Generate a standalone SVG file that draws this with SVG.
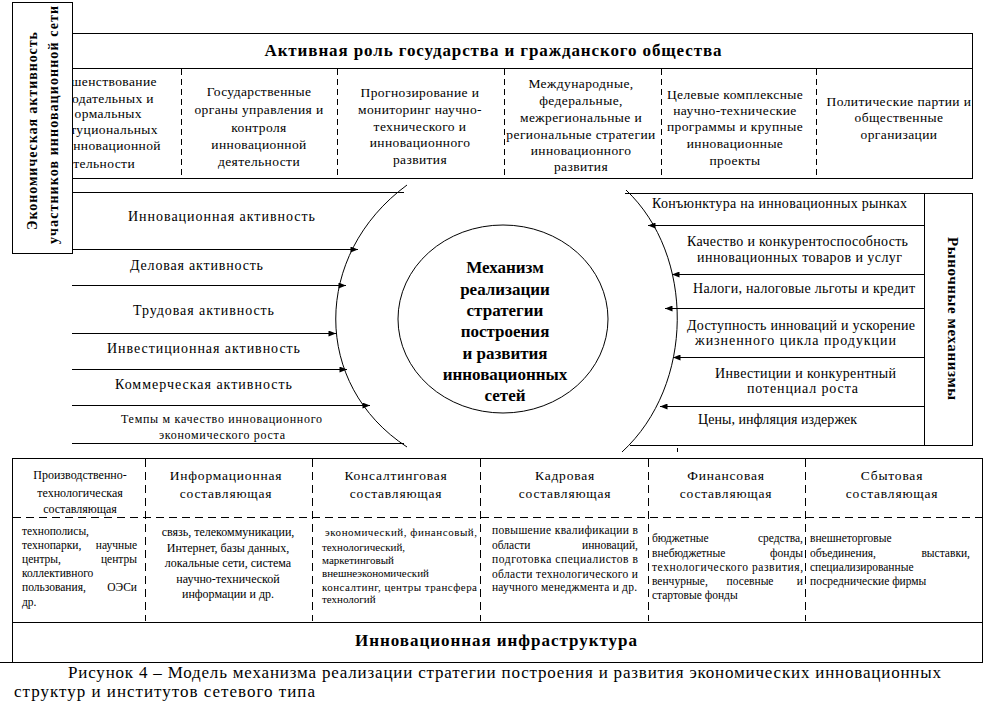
<svg xmlns="http://www.w3.org/2000/svg" width="986" height="717" viewBox="0 0 986 717">
<defs>
<style>
text{font-family:"Liberation Serif","Times New Roman",serif;fill:#000}
.c{text-anchor:middle}
.e{text-anchor:end}
.b{font-weight:bold}
.cell{font-size:13.5px;letter-spacing:0.4px}
.lbl{font-size:14px}
.sm{font-size:11.5px}
.hd{font-size:13.5px;letter-spacing:0.8px}
.ln{stroke:#000;stroke-width:1;fill:none}
.box{stroke:#000;stroke-width:1;fill:#fff}
.dv{stroke:#000;stroke-width:1;stroke-dasharray:6 4}
.dh{stroke:#000;stroke-width:1;stroke-dasharray:8 5}
.arr{stroke:#000;stroke-width:1;fill:none;marker-end:url(#ah)}
</style>
<marker id="ah" viewBox="0 0 10 8" refX="10" refY="4" markerWidth="9" markerHeight="6" markerUnits="userSpaceOnUse" orient="auto"><path d="M0,0L10,4L0,8z" fill="#000"/></marker>
</defs>
<rect width="986" height="717" fill="#fff"/>

<g id="state">
<rect class="box" x="72.5" y="33.5" width="900" height="145"/>
<line class="ln" x1="72" y1="68.5" x2="973" y2="68.5"/>
<text class="b c" x="493" y="56" font-size="17" textLength="457">Активная роль государства и гражданского общества</text>
<line class="dv" x1="181.5" y1="69" x2="181.5" y2="178"/>
<line class="dv" x1="337.5" y1="69" x2="337.5" y2="178"/>
<line class="dv" x1="504.5" y1="69" x2="504.5" y2="178"/>
<line class="dv" x1="661.5" y1="69" x2="661.5" y2="178"/>
<line class="dv" x1="816.5" y1="69" x2="816.5" y2="178"/>
<g id="cell1" class="cell">
<text class="e" x="157" y="86">шенствование</text>
<text class="e" x="154" y="103">одательных и</text>
<text class="e" x="142" y="118">ормальных</text>
<text class="e" x="158" y="134">туциональных</text>
<text class="e" x="161" y="150">инновационной</text>
<text class="e" x="135" y="168">тельности</text>
</g>
<g id="cell2" class="cell">
<text class="c" x="259" y="95.5">Государственные</text>
<text class="c" x="259" y="113.5">органы управления и</text>
<text class="c" x="259" y="131.5">контроля</text>
<text class="c" x="259" y="149">инновационной</text>
<text class="c" x="259" y="166">деятельности</text>
</g>
<g id="cell3" class="cell">
<text class="c" x="420" y="97">Прогнозирование и</text>
<text class="c" x="420" y="114">мониторинг научно-</text>
<text class="c" x="420" y="130.5">технического и</text>
<text class="c" x="420" y="147">инновационного</text>
<text class="c" x="420" y="164">развития</text>
</g>
<g id="cell4" class="cell">
<text class="c" x="581" y="87.5">Международные,</text>
<text class="c" x="581" y="104.5">федеральные,</text>
<text class="c" x="581" y="121.5">межрегиональные и</text>
<text class="c" x="581" y="138.5">региональные стратегии</text>
<text class="c" x="581" y="154.5">инновационного</text>
<text class="c" x="581" y="170.5">развития</text>
</g>
<g id="cell5" class="cell">
<text class="c" x="735" y="98.5">Целевые комплексные</text>
<text class="c" x="735" y="114.5">научно-технические</text>
<text class="c" x="735" y="131">программы и крупные</text>
<text class="c" x="735" y="148">инновационные</text>
<text class="c" x="735" y="164.5">проекты</text>
</g>
<g id="cell6" class="cell">
<text class="c" x="899" y="106">Политические партии и</text>
<text class="c" x="899" y="122">общественные</text>
<text class="c" x="899" y="138.5">организации</text>
</g>
</g>

<g id="economic-activity">
<rect class="box" x="12.5" y="2.5" width="60" height="251"/>
<text class="b c" font-size="14" transform="translate(37,131) rotate(-90)" textLength="198">Экономическая активность</text>
<text class="b c" font-size="14" transform="translate(58,125) rotate(-90)" textLength="238">участников инновационной сети</text>
<path class="ln" d="M407,185 C312,255 312,385 407,447"/>
<line class="ln" x1="72" y1="192.5" x2="404" y2="192.5"/>
<line class="ln" x1="72" y1="443.5" x2="404" y2="443.5"/>
<text class="lbl c" x="221.5" y="221" textLength="187">Инновационная активность</text>
<text class="lbl c" x="196.5" y="270" textLength="133">Деловая активность</text>
<text class="lbl c" x="203.5" y="315" textLength="141">Трудовая активность</text>
<text class="lbl c" x="203.5" y="353" textLength="193">Инвестиционная активность</text>
<text class="lbl c" x="203.5" y="389" textLength="177">Коммерческая активность</text>
<text class="c" font-size="12" x="221.5" y="423" textLength="201">Темпы м качество инновационного</text>
<text class="c" font-size="12" x="222" y="439" textLength="126">экономического роста</text>
</g>

<g id="market">
<rect class="box" x="924.5" y="193.5" width="48" height="252"/>
<text class="b c" font-size="15" transform="translate(948,318.5) rotate(90)" textLength="163">Рыночные механизмы</text>
<path class="ln" d="M626,190 C695,255 695,385 622,452"/>
<line class="ln" x1="625" y1="193.5" x2="924" y2="193.5"/>
<line class="ln" x1="630" y1="445.5" x2="924" y2="445.5"/>
<line class="ln" x1="677.5" y1="448" x2="677.5" y2="452"/>
<text class="lbl c" x="779.5" y="208" textLength="255">Конъюнктура на инновационных рынках</text>
<text class="lbl c" x="797.5" y="246" textLength="221">Качество и конкурентоспособность</text>
<text class="lbl c" x="799.5" y="262" textLength="205">инновационных товаров и услуг</text>
<text class="lbl c" x="804" y="293" textLength="222">Налоги, налоговые льготы и кредит</text>
<text class="lbl c" x="801" y="330" textLength="228">Доступность инноваций и ускорение</text>
<text class="lbl c" x="795.5" y="345" textLength="201">жизненного цикла продукции</text>
<text class="lbl c" x="805.5" y="378" textLength="181">Инвестиции и конкурентный</text>
<text class="lbl c" x="802.5" y="393" textLength="111">потенциал роста</text>
<text class="lbl c" x="777.5" y="424" textLength="159">Цены, инфляция издержек</text>
</g>

<g id="mechanism">
<ellipse class="ln" cx="503" cy="319" rx="105" ry="94"/>
<text class="b c" font-size="17" x="505" y="273">Механизм</text>
<text class="b c" font-size="17" x="505" y="294.5">реализации</text>
<text class="b c" font-size="17" x="505" y="316">стратегии</text>
<text class="b c" font-size="17" x="505" y="337">построения</text>
<text class="b c" font-size="17" x="505" y="358.5">и развития</text>
<text class="b c" font-size="17" x="505" y="380">инновационных</text>
<text class="b c" font-size="17" x="505" y="401">сетей</text>
</g>

<g id="connectors">
<line class="arr" x1="72" y1="249.5" x2="358" y2="249.5"/>
<line class="arr" x1="72" y1="285.5" x2="346" y2="285.5"/>
<line class="arr" x1="72" y1="333.5" x2="336" y2="333.5"/>
<line class="arr" x1="72" y1="369.5" x2="347" y2="369.5"/>
<line class="arr" x1="72" y1="405.5" x2="370" y2="405.5"/>
<line class="arr" x1="924" y1="225.5" x2="648" y2="225.5"/>
<line class="arr" x1="924" y1="274.5" x2="672" y2="274.5"/>
<line class="arr" x1="924" y1="308.5" x2="665" y2="308.5"/>
<line class="arr" x1="924" y1="357.5" x2="673" y2="357.5"/>
<line class="arr" x1="924" y1="406.5" x2="660" y2="406.5"/>
</g>

<g id="infrastructure">
<rect class="ln" x="12.5" y="458.5" width="970" height="204"/>
<line class="ln" x1="0" y1="662.5" x2="12" y2="662.5"/>
<line class="ln" x1="12" y1="622.5" x2="982" y2="622.5"/>
<line class="dh" x1="13" y1="517.5" x2="982" y2="517.5"/>
<line class="dh" x1="145.5" y1="459" x2="145.5" y2="621"/>
<line class="dh" x1="312.5" y1="459" x2="312.5" y2="621"/>
<line class="dh" x1="480.5" y1="459" x2="480.5" y2="621"/>
<line class="dh" x1="648.5" y1="459" x2="648.5" y2="621"/>
<line class="dh" x1="805.5" y1="459" x2="805.5" y2="621"/>
<text class="b c" font-size="17" x="496" y="646" textLength="282">Инновационная инфраструктура</text>

<g id="col1">
<text class="c" font-size="12" x="80" y="479">Производственно-</text>
<text class="c" font-size="12" x="80" y="497">технологическая</text>
<text class="c" font-size="12" x="80" y="513">составляющая</text>
<g class="sm">
<text x="22" y="535">технополисы,</text>
<text x="22" y="549">технопарки,</text><text class="e" x="137" y="549">научные</text>
<text x="22" y="563">центры,</text><text class="e" x="137" y="563">центры</text>
<text x="22" y="577">коллективного</text>
<text x="22" y="591">пользования,</text><text class="e" x="137" y="591">ОЭСи</text>
<text x="22" y="606">др.</text>
</g>
</g>
<g id="col2">
<text class="hd c" x="226" y="480">Информационная</text>
<text class="hd c" x="226" y="498">составляющая</text>
<g font-size="12">
<text class="c" x="228" y="536">связь, телекоммуникации,</text>
<text class="c" x="228" y="551.5">Интернет, базы данных,</text>
<text class="c" x="228" y="567">локальные сети, система</text>
<text class="c" x="228" y="582.5">научно-технической</text>
<text class="c" x="228" y="598">информации и др.</text>
</g>
</g>
<g id="col3">
<text class="hd c" x="396" y="480">Консалтинговая</text>
<text class="hd c" x="396" y="498">составляющая</text>
<g font-size="11">
<text x="325" y="536" textLength="152">экономический, финансовый,</text>
<text x="322" y="551">технологический,</text>
<text x="322" y="563.5">маркетинговый</text>
<text x="322" y="577">внешнеэкономический</text>
<text x="322" y="591" textLength="155">консалтинг, центры трансфера</text>
<text x="322" y="603">технологий</text>
</g>
</g>
<g id="col4">
<text class="hd c" x="565" y="480">Кадровая</text>
<text class="hd c" x="565" y="498">составляющая</text>
<g class="sm">
<text x="492" y="534" textLength="146">повышение квалификации в</text>
<text x="492" y="549">области</text><text class="e" x="638" y="549">инноваций,</text>
<text x="492" y="563" textLength="146">подготовка специалистов в</text>
<text x="492" y="578" textLength="146">области технологического и</text>
<text x="492" y="591" textLength="145">научного менеджмента и др.</text>
</g>
</g>
<g id="col5">
<text class="hd c" x="726" y="480">Финансовая</text>
<text class="hd c" x="726" y="498">составляющая</text>
<g class="sm">
<text x="652" y="542">бюджетные</text><text class="e" x="803" y="542">средства,</text>
<text x="652" y="557">внебюджетные</text><text class="e" x="803" y="557">фонды</text>
<text x="652" y="571" textLength="151">технологического развития,</text>
<text x="652" y="585">венчурные,</text><text class="c" x="750" y="585">посевные</text><text class="e" x="803" y="585">и</text>
<text x="652" y="599">стартовые фонды</text>
</g>
</g>
<g id="col6">
<text class="hd c" x="892" y="480">Сбытовая</text>
<text class="hd c" x="892" y="498">составляющая</text>
<g class="sm">
<text x="810" y="542">внешнеторговые</text>
<text x="810" y="557">объединения,</text><text class="e" x="970" y="557">выставки,</text>
<text x="810" y="571">специализированные</text>
<text x="810" y="585">посреднические фирмы</text>
</g>
</g>
</g>

<g id="caption">
<text font-size="17" x="68" y="678" textLength="873">Рисунок 4 – Модель механизма реализации стратегии построения и развития экономических инновационных</text>
<text font-size="17" x="14" y="697" textLength="301">структур и институтов сетевого типа</text>
</g>
</svg>
